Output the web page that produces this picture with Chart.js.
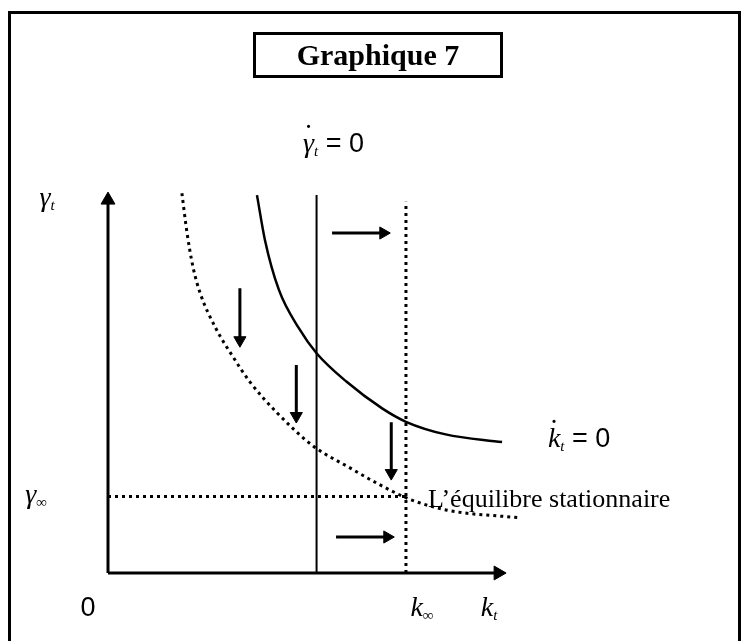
<!DOCTYPE html>
<html>
<head>
<meta charset="utf-8">
<script src="https://cdn.jsdelivr.net/npm/chart.js@4"></script>
<style>
  html, body { margin: 0; padding: 0; background: #fff; }
  #wrap { position: relative; width: 743px; height: 641px; overflow: hidden; }
  canvas { position: absolute; left: 0; top: 0; }
  #frame { position: absolute; left: 8px; top: 11px; width: 733px; height: 680px;
           border: 3px solid #000; box-sizing: border-box; }
  #title { position: absolute; left: 253px; top: 32px; width: 250px; height: 46px;
           border: 3px solid #000; box-sizing: border-box; text-align: center;
           font: bold 30px "Liberation Serif", serif; line-height: 39px; }
  .lbl { position: absolute; white-space: nowrap; color: #000; transform: translate(-50%, -50%); line-height: 1; }
  .m { font-family: "Liberation Serif", serif; font-style: italic; font-size: 28px; }
  .s { font-family: "Liberation Sans", sans-serif; font-size: 27px; font-style: normal; }
  .sub { font-size: 15px; position: relative; top: 4px; }
  .eq { font-family: "Liberation Serif", serif; font-size: 26px; }
  .dt { position: relative; display: inline-block; }
  .dt .d { position: absolute; left: 0; right: 0; top: -9px; text-align: center;
           font-family: "Liberation Serif", serif; font-style: normal; font-size: 30px; }
</style>
</head>
<body>
<div id="wrap">
  <canvas id="c" width="743" height="641"></canvas>
  <div id="frame"></div>
  <div id="title">Graphique 7</div>
  <div class="lbl" id="lGdot"><span class="m dt">γ<span class="d">˙</span></span><span class="m sub">t</span><span class="s"> = 0</span></div>
  <div class="lbl" id="lKdot"><span class="m dt">k<span class="d">˙</span></span><span class="m sub">t</span><span class="s"> = 0</span></div>
  <div class="lbl eq" id="lEq" style="transform: translate(0, -50%)">L’équilibre stationnaire</div>
  <div class="lbl" id="lGt"><span class="m">γ</span><span class="m sub">t</span></div>
  <div class="lbl" id="lGinf"><span class="m">γ</span><span class="m sub">∞</span></div>
  <div class="lbl s" id="l0">0</div>
  <div class="lbl" id="lKinf"><span class="m">k</span><span class="m sub">∞</span></div>
  <div class="lbl" id="lKt"><span class="m">k</span><span class="m sub">t</span></div>
</div>
<script>
// --- valeurs (k en abscisse, gamma en ordonnée) ---
const kStar = 5.25;      // droite gamma point = 0
const kInf = 7.5;        // k stationnaire
const gammaInf = 2.0;    // gamma stationnaire
const kAxisEnd = 9.82;
const gammaAxisEnd = 9.74;
const kStarTop = 9.87;
const kInfTop = 9.7;

// courbe k point = 0 (trait plein)
const solidCurveK = [3.75, 3.95, 4.3, 4.8, 5.25, 6.0, 6.9, 7.5, 8.5, 9.92];
const solidCurveG = [9.87, 8.7, 7.4, 6.4, 5.74, 5.0, 4.3, 3.95, 3.62, 3.42];

// courbe en pointillés (trajectoire vers l'équilibre)
const dottedCurveK = [1.86, 1.99, 2.14, 2.32, 2.72, 3.15, 3.58, 4.26, 5.16, 6.10, 6.85, 7.61, 8.54, 10.38];
const dottedCurveG = [9.92, 8.88, 7.99, 7.31, 6.38, 5.64, 4.98, 4.18, 3.32, 2.74, 2.30, 1.92, 1.64, 1.44];

// flèches : [k départ, k arrivée, gamma] et [k, gamma départ, gamma arrivée]
const arrowsRight = [[5.64, 6.93, 8.88], [5.74, 7.03, 0.94]];
const arrowsDown = [[3.32, 7.44, 6.08], [4.74, 5.43, 4.10], [7.13, 3.94, 2.61]];

const pts = (ks, gs) => ks.map((k, i) => ({ x: k, y: gs[i] }));

function line(data, opts) {
  return Object.assign({
    data, showLine: true, borderColor: "#000", borderWidth: 3, clip: false,
    pointRadius: 0, pointHoverRadius: 0, fill: false
  }, opts || {});
}

function arrowHead(rot, r) {
  return {
    pointRadius: [0, r], pointStyle: "triangle", pointRotation: [0, rot],
    pointBackgroundColor: "#000", pointBorderColor: "#000", pointBorderWidth: 1
  };
}

const datasets = [
  line([{ x: 0, y: 0 }, { x: 0, y: gammaAxisEnd }], arrowHead(0, 8)),
  line([{ x: 0, y: 0 }, { x: kAxisEnd, y: 0 }], arrowHead(90, 8)),
  line([{ x: kStar, y: 0 }, { x: kStar, y: kStarTop }], { borderWidth: 2 }),
  line([{ x: kInf, y: 0 }, { x: kInf, y: kInfTop }], { borderDash: [3, 4] }),
  line([{ x: 0, y: gammaInf }, { x: kInf, y: gammaInf }], { borderDash: [3, 4] }),
  line(pts(solidCurveK, solidCurveG), { borderWidth: 2.5, cubicInterpolationMode: "monotone" }),
  line(pts(dottedCurveK, dottedCurveG), { borderDash: [3, 4], cubicInterpolationMode: "monotone" })
];
arrowsRight.forEach(a => datasets.push(line([{ x: a[0], y: a[2] }, { x: a[1], y: a[2] }], arrowHead(90, 7))));
arrowsDown.forEach(a => datasets.push(line([{ x: a[0], y: a[1] }, { x: a[0], y: a[2] }], arrowHead(180, 7))));

const chart = new Chart(document.getElementById("c"), {
  type: "scatter",
  data: { datasets },
  options: {
    responsive: false,
    animation: false,
    devicePixelRatio: 1,
    layout: { padding: { left: 108, right: 198, top: 171, bottom: 68 } },
    scales: {
      x: { type: "linear", min: 0, max: 11, display: false },
      y: { type: "linear", min: 0, max: 10.5, display: false }
    },
    plugins: { legend: { display: false }, tooltip: { enabled: false } },
    events: []
  }
});

// --- placement des textes à partir des échelles ---
const xs = chart.scales.x, ys = chart.scales.y;
function place(id, k, g, dx, dy) {
  const el = document.getElementById(id);
  el.style.left = (xs.getPixelForValue(k) + dx) + "px";
  el.style.top = (ys.getPixelForValue(g) + dy) + "px";
}
place("lGdot", kStar, kStarTop, 17, -52);
place("lKdot", 9.92, 3.42, 77, -4);
place("lEq", kInf, gammaInf, 22, 3);
place("lGt", 0, gammaAxisEnd, -61, -3);
place("lGinf", 0, gammaInf, -72, -2);
place("l0", 0, 0, -20, 34);
place("lKinf", kInf, 0, 16, 34);
place("lKt", kAxisEnd, 0, -9, 34);
</script>
</body>
</html>
